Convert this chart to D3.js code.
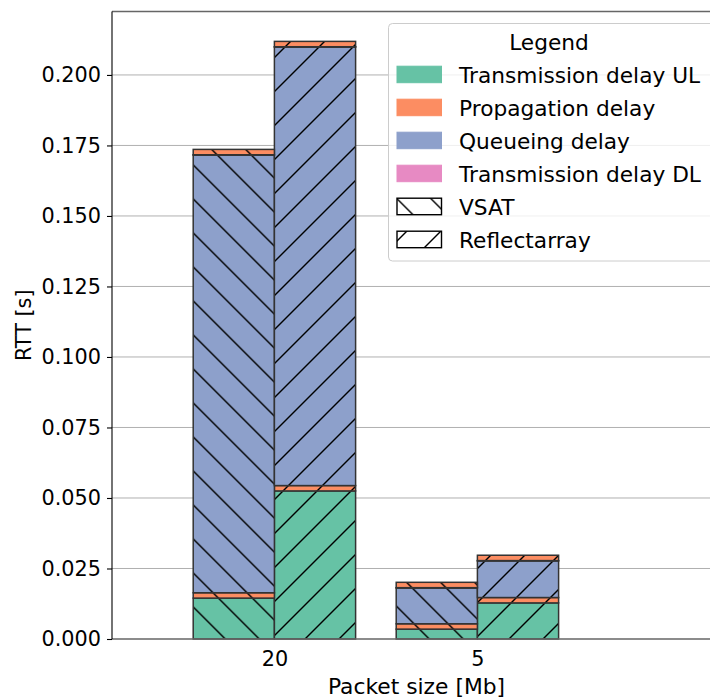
<!DOCTYPE html>
<html>
<head>
<meta charset="utf-8">
<script src="https://cdn.jsdelivr.net/npm/d3@7"></script>
<style>
  html, body { margin: 0; padding: 0; background: #fff; }
  svg { display: block; font-family: "DejaVu Sans", sans-serif; }
</style>
</head>
<body>
<svg id="chart" width="710" height="699"></svg>
<script>
// ---------------- data ----------------
const categories = ["20", "5"];               // packet size [Mb]
const methods = ["VSAT", "Reflectarray"];
// values in seconds, per category
const vsatTxUL       = [0.0145, 0.0035];
const vsatProp       = [0.0019, 0.0019];
const vsatQueue      = [0.1552, 0.0127];
const vsatTxDL       = [0.0001, 0.0001];
const reflTxUL       = [0.0525, 0.0128];
const reflProp       = [0.0019, 0.0019];
const reflQueue      = [0.1555, 0.0130];
const reflTxDL       = [0.0001, 0.0001];
const seriesNames = ["Transmission delay UL", "Propagation delay", "Queueing delay", "Transmission delay DL"];
const seriesColors = ["#66c2a5", "#fc8d62", "#8da0cb", "#e78ac3"];
const yTicks = [0, 0.025, 0.05, 0.075, 0.1, 0.125, 0.15, 0.175, 0.2];

// stacking order: UL, propagation (up), queueing, DL, propagation (down)
const stackKeys = ["ul", "prop1", "queue", "dl", "prop2"];
const keyColor = {ul: seriesColors[0], prop1: seriesColors[1], queue: seriesColors[2], dl: seriesColors[3], prop2: seriesColors[1]};

const rows = [];
categories.forEach((c, i) => {
  rows.push({cat: i, method: "VSAT", ul: vsatTxUL[i], prop1: vsatProp[i], queue: vsatQueue[i], dl: vsatTxDL[i], prop2: vsatProp[i]});
  rows.push({cat: i, method: "Reflectarray", ul: reflTxUL[i], prop1: reflProp[i], queue: reflQueue[i], dl: reflTxDL[i], prop2: reflProp[i]});
});
const stacked = d3.stack().keys(stackKeys)(rows);
const maxTotal = d3.max(rows, r => stackKeys.reduce((s, k) => s + r[k], 0));

// ---------------- layout ----------------
const svg = d3.select("#chart");
const L = 112, R = 721, T = 11.5, B = 639;
const FS = 20.8, FSL = 21.7, FSX = 21.8;
const barW = 0.4;

const x = d3.scaleLinear().domain([-0.8, 2.2]).range([L, R]);
const y = d3.scaleLinear().domain([0, maxTotal * 1.05]).range([B, T]);

// hatch patterns
const P = 34;
const defs = svg.append("defs");
const back = defs.append("pattern").attr("id", "hatchBack")
  .attr("patternUnits", "userSpaceOnUse").attr("width", P).attr("height", P)
  .attr("patternTransform", "translate(28.3,0)");
[[0,0,P,P],[P-3,-3,P+3,3],[-3,P-3,3,P+3]].forEach(s =>
  back.append("line").attr("x1", s[0]).attr("y1", s[1]).attr("x2", s[2]).attr("y2", s[3])
    .attr("stroke", "#000").attr("stroke-width", 1.4));
const fwd = defs.append("pattern").attr("id", "hatchFwd")
  .attr("patternUnits", "userSpaceOnUse").attr("width", P).attr("height", P)
  .attr("patternTransform", "translate(26,0)");
[[0,P,P,0],[-3,3,3,-3],[P-3,P+3,P+3,P-3]].forEach(s =>
  fwd.append("line").attr("x1", s[0]).attr("y1", s[1]).attr("x2", s[2]).attr("y2", s[3])
    .attr("stroke", "#000").attr("stroke-width", 1.4));
const hatchOf = {"VSAT": "url(#hatchBack)", "Reflectarray": "url(#hatchFwd)"};

// grid
svg.append("g").selectAll("line").data(yTicks.filter(t => t > 0)).join("line")
  .attr("x1", L).attr("x2", R).attr("y1", d => y(d)).attr("y2", d => y(d))
  .attr("stroke", "#b0b0b0").attr("stroke-width", 1);

// bars
const barX = r => r.method === "VSAT" ? x(r.cat - barW) : x(r.cat);
const bw = x(barW) - x(0);
const segs = [];
stacked.forEach(layer => layer.forEach(d => segs.push({key: layer.key, y0: d[0], y1: d[1], row: d.data})));
const gb = svg.append("g");
segs.forEach(s => {
  const rx = barX(s.row), ry = y(s.y1), rh = y(s.y0) - y(s.y1);
  gb.append("rect").attr("x", rx).attr("y", ry).attr("width", bw).attr("height", rh)
    .attr("fill", keyColor[s.key]);
  gb.append("rect").attr("x", rx).attr("y", ry).attr("width", bw).attr("height", rh)
    .attr("fill", hatchOf[s.row.method]);
  gb.append("rect").attr("x", rx).attr("y", ry).attr("width", bw).attr("height", rh)
    .attr("fill", "none").attr("stroke", "#333").attr("stroke-width", 1.5);
});

// spines
svg.append("line").attr("x1", L).attr("x2", R).attr("y1", T).attr("y2", T).attr("stroke", "#666").attr("stroke-width", 1.6);
svg.append("line").attr("x1", L).attr("x2", R).attr("y1", B).attr("y2", B).attr("stroke", "#666").attr("stroke-width", 1.6);
svg.append("line").attr("x1", L).attr("x2", L).attr("y1", T).attr("y2", B).attr("stroke", "#000").attr("stroke-width", 1.1);

// y axis
const yAxis = d3.axisLeft(y).tickValues(yTicks).tickFormat(d3.format(".3f")).tickSize(5).tickPadding(6);
const ga = svg.append("g").attr("transform", `translate(${L},0)`).call(yAxis);
ga.select(".domain").remove();
ga.selectAll(".tick line").attr("stroke", "#000").attr("stroke-width", 1.1);
ga.selectAll(".tick text").attr("font-size", FS).attr("font-family", "DejaVu Sans").attr("fill", "#000");

// x axis labels (no tick marks)
const xAxis = d3.axisBottom(x).tickValues(categories.map((c, i) => i)).tickFormat(i => categories[i]).tickSize(0).tickPadding(12);
const gx = svg.append("g").attr("transform", `translate(0,${B})`).call(xAxis);
gx.select(".domain").remove();
gx.selectAll(".tick text").attr("font-size", FS).attr("font-family", "DejaVu Sans").attr("fill", "#000");

// axis titles
svg.append("text").attr("x", (L + R) / 2).attr("y", 694).attr("text-anchor", "middle")
  .attr("font-size", FSX).text("Packet size [Mb]");
svg.append("text").attr("transform", `translate(30.5,${(T + B) / 2}) rotate(-90)`).attr("text-anchor", "middle")
  .attr("font-size", FS).text("RTT [s]");

// legend
const lg = svg.append("g");
lg.append("rect").attr("x", 388.5).attr("y", 23.5).attr("width", 330).attr("height", 237.5).attr("rx", 4)
  .attr("fill", "#fff").attr("fill-opacity", 0.8).attr("stroke", "#cccccc").attr("stroke-width", 1);
lg.append("text").attr("x", 549).attr("y", 49.5).attr("text-anchor", "middle").attr("font-size", FSL).text("Legend");
const entries = seriesNames.map((n, i) => ({label: n, fill: seriesColors[i], hatch: null}))
  .concat(methods.map(m => ({label: m, fill: "#fff", hatch: hatchOf[m]})));
entries.forEach((e, i) => {
  const by = 82.7 + i * 33;
  lg.append("rect").attr("x", 397).attr("y", by - 16.5).attr("width", 44.5).attr("height", 16.5)
    .attr("fill", e.fill).attr("stroke", e.hatch ? "none" : e.fill).attr("stroke-width", 1);
  if (e.hatch) {
    lg.append("rect").attr("x", 397).attr("y", by - 16.5).attr("width", 44.5).attr("height", 16.5)
      .attr("fill", e.hatch);
    lg.append("rect").attr("x", 397).attr("y", by - 16.5).attr("width", 44.5).attr("height", 16.5)
      .attr("fill", "none").attr("stroke", "#000").attr("stroke-width", 1.4);
  }
  lg.append("text").attr("x", 459).attr("y", by).attr("font-size", FSL).text(e.label);
});
</script>
</body>
</html>
